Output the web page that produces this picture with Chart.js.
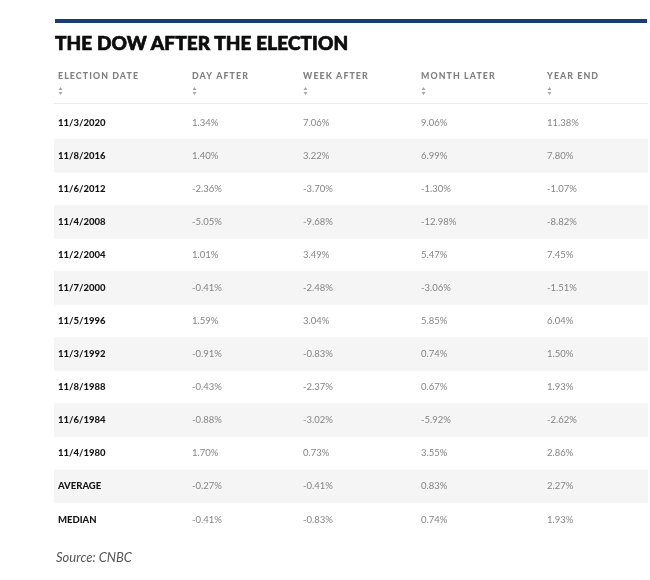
<!DOCTYPE html>
<html>
<head>
<meta charset="utf-8">
<script src="https://cdn.jsdelivr.net/npm/chart.js@4.4.0/dist/chart.umd.min.js"></script>
<style>
  body { margin: 0; background: #fff; }
  #wrap { position: relative; width: 650px; height: 580px; }
  #topBar { position: absolute; left: 55px; top: 19px; width: 592px; height: 4px; background: #1b3c72; }
  #title { position: absolute; left: 55px; top: 33px; font: 900 19px/19px Lato, sans-serif; color: #0d0d0d; white-space: nowrap; -webkit-text-stroke: 0.7px #0d0d0d; letter-spacing: 0.1px; }
  #source { position: absolute; left: 56px; top: 551px; font: italic 13px/13px Lato, sans-serif; color: #555; white-space: nowrap; }
  canvas { position: absolute; left: 0; top: 0; }
</style>
</head>
<body>
<div id="wrap">
  <canvas id="table" width="650" height="580"></canvas>
  <div id="topBar"></div>
  <div id="title">THE DOW AFTER THE ELECTION</div>
  <div id="source">Source: CNBC</div>
</div>
<script>
const columns = ['ELECTION DATE', 'DAY AFTER', 'WEEK AFTER', 'MONTH LATER', 'YEAR END'];
const electionDates = ['11/3/2020', '11/8/2016', '11/6/2012', '11/4/2008', '11/2/2004', '11/7/2000',
    '11/5/1996', '11/3/1992', '11/8/1988', '11/6/1984', '11/4/1980', 'AVERAGE', 'MEDIAN'];
const dayAfter = [1.34, 1.40, -2.36, -5.05, 1.01, -0.41, 1.59, -0.91, -0.43, -0.88, 1.70, -0.27, -0.41];
const weekAfter = [7.06, 3.22, -3.70, -9.68, 3.49, -2.48, 3.04, -0.83, -2.37, -3.02, 0.73, -0.41, -0.83];
const monthLater = [9.06, 6.99, -1.30, -12.98, 5.47, -3.06, 5.85, 0.74, 0.67, -5.92, 3.55, 0.83, 0.74];
const yearEnd = [11.38, 7.80, -1.07, -8.82, 7.45, -1.51, 6.04, 1.50, 1.93, -2.62, 2.86, 2.27, 1.93];

// layout of the table along the x scale (scale units = px of table width)
const tableWidth = 594;
const colStart = [4, 138, 249, 367, 493];

const valueCols = [dayAfter, weekAfter, monthLater, yearEnd];

// every other row gets a light grey band
const stripes = electionDates.map((d, i) => i % 2 === 1 ? [0, tableWidth] : null);

const tablePlugin = {
    id: 'tableText',
    afterDatasetsDraw(chart) {
        const ctx = chart.ctx;
        const x = chart.scales.x;
        const y = chart.scales.y;
        const area = chart.chartArea;
        ctx.save();

        // header line
        ctx.strokeStyle = '#ececec';
        ctx.lineWidth = 1;
        ctx.beginPath();
        ctx.moveTo(area.left, area.top - 2.5);
        ctx.lineTo(area.right, area.top - 2.5);
        ctx.stroke();

        // header labels + sort arrows
        ctx.textBaseline = 'alphabetic';
        ctx.textAlign = 'left';
        ctx.font = '900 8.8px Lato, sans-serif';
        ctx.letterSpacing = '1.1px';
        columns.forEach((label, c) => {
            const px = x.getPixelForValue(colStart[c]);
            ctx.fillStyle = '#808080';
            ctx.fillText(label, px, area.top - 27);
            ctx.fillStyle = '#a8a8a8';
            const ax = px + 2.5;
            const ay = area.top - 15;
            ctx.beginPath();
            ctx.moveTo(ax - 2, ay - 1);
            ctx.lineTo(ax + 2, ay - 1);
            ctx.lineTo(ax, ay - 4);
            ctx.closePath();
            ctx.fill();
            ctx.beginPath();
            ctx.moveTo(ax - 2, ay + 1);
            ctx.lineTo(ax + 2, ay + 1);
            ctx.lineTo(ax, ay + 4);
            ctx.closePath();
            ctx.fill();
        });
        ctx.letterSpacing = '0px';

        // body cells
        ctx.textBaseline = 'middle';
        electionDates.forEach((date, i) => {
            const py = y.getPixelForValue(i);
            ctx.font = '900 9.5px Lato, sans-serif';
            ctx.fillStyle = '#151515';
            ctx.fillText(date, x.getPixelForValue(colStart[0]), py);
            ctx.font = '9.5px Lato, sans-serif';
            ctx.fillStyle = '#858585';
            valueCols.forEach((col, c) => {
                ctx.fillText(col[i].toFixed(2) + '%', x.getPixelForValue(colStart[c + 1]), py);
            });
        });
        ctx.restore();
    }
};

new Chart(document.getElementById('table'), {
    type: 'bar',
    data: {
        labels: electionDates,
        datasets: [{
            data: stripes,
            backgroundColor: '#f5f5f5',
            barPercentage: 1,
            categoryPercentage: 1,
            borderSkipped: false
        }]
    },
    options: {
        indexAxis: 'y',
        responsive: false,
        animation: false,
        layout: { padding: { left: 54, right: 2, top: 106, bottom: 44 } },
        scales: {
            x: { type: 'linear', display: false, min: 0, max: tableWidth },
            y: { display: false }
        },
        plugins: {
            legend: { display: false },
            tooltip: { enabled: false }
        }
    },
    plugins: [tablePlugin]
});
</script>
</body>
</html>
